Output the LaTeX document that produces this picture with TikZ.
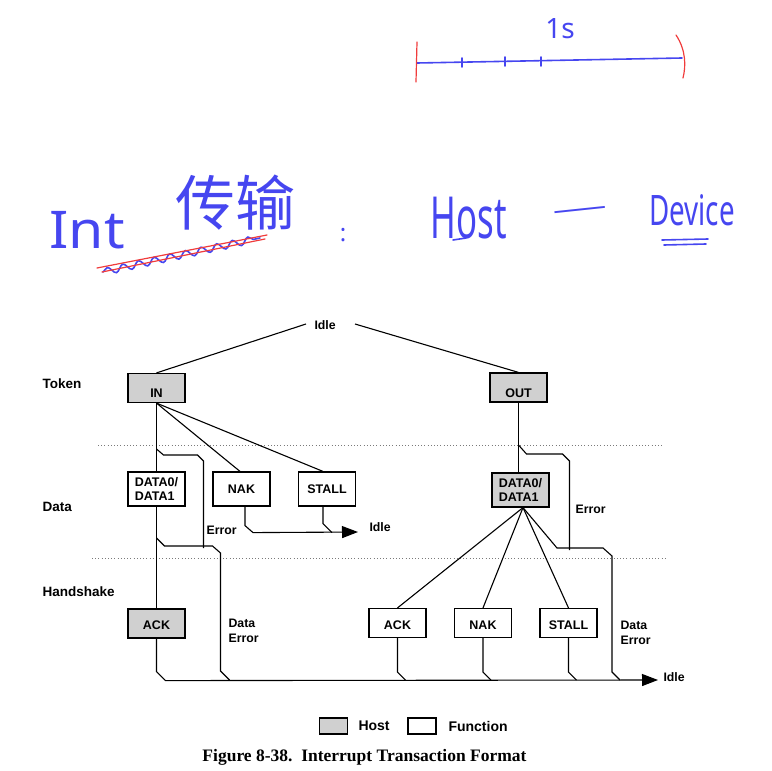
\documentclass[tikz,border=0pt]{standalone}
\usepackage{fontspec}
\setmainfont{Liberation Serif}
\setsansfont{Liberation Sans}
\newfontfamily\handfont{Noto Sans}
\newfontfamily\cjkhand{Noto Sans CJK SC}
\usetikzlibrary{arrows.meta, calc, decorations.pathmorphing}
\definecolor{chost}{HTML}{D0D0D0}
\definecolor{cink}{HTML}{4646F0}
\definecolor{cred}{HTML}{F03C3C}
\definecolor{cdot}{HTML}{7A7A7A}
\tikzset{
  every picture/.style={font=\sffamily\bfseries, line width=1.1pt},
  pktbase/.style={draw, fill=#1, line width=1.2pt, minimum width=57pt, inner sep=0pt, align=left, font=\sffamily\bfseries\fontsize{12.5}{14}\selectfont},
  pktbase/.default=white,
  pkt/.style={pktbase=#1, minimum height=29pt, text height=12pt, text depth=0pt},
  pkt/.default=white,
  datapkt/.style={pktbase=#1, minimum height=34pt},
  datapkt/.default=white,
  phase/.style={anchor=west, inner sep=0pt, font=\sffamily\bfseries\fontsize{13.5}{14}\selectfont},
  note/.style={anchor=west, inner sep=0pt, align=left, font=\sffamily\bfseries\fontsize{12.3}{14.5}\selectfont},
  key/.style={draw, fill=#1, line width=1.2pt, minimum width=28pt, minimum height=16pt, inner sep=0pt},
  sep/.style={draw=cdot, line width=0.8pt, dash pattern=on 1pt off 2.2pt},
  flow/.style={draw=black, line width=1.1pt},
  toidle/.style={flow, -{Triangle[length=16pt, width=12pt]}},
  ink/.style={text=cink, inner sep=0pt},
  inkline/.style={draw=cink, line width=1.6pt, line cap=round},
  redline/.style={draw=cred, line width=1.2pt, line cap=round},
}

\begin{document}
\begin{tikzpicture}[x=1pt, y=-1pt]
  \useasboundingbox (0,0) rectangle (772,771);
  % handwritten notes
  \node[ink, font=\handfont\fontsize{28}{28}\selectfont, anchor=base] (hsec) at (560,38) {1s};
  \coordinate (t0) at (417,63);
  \coordinate (t1) at (682,58);
  \draw[inkline] (t0) -- (t1);
  \foreach \x/\y in {462/62, 505/61, 541/61}
    \draw[inkline] (\x,\y-4) -- (\x,\y+5);
  \draw[redline] (417,42) -- (416,82);
  \draw[redline] (676,35) .. controls (686,50) and (686,66) .. (683,78);
  \node[ink, font=\handfont\fontsize{52}{52}\selectfont, anchor=base] (hint) at (87,248) {\scalebox{1.1}[1]{Int}};
  \node[ink, font=\cjkhand\fontsize{60}{60}\selectfont, anchor=base] (hchuan) at (235,225) {传输};
  \draw[inkline, decorate, decoration={snake, amplitude=3.5pt, segment length=16pt}] (103,272) -- (260,238);
  \draw[redline] (97,268) -- (267,235);
  \draw[redline] (102,272) -- (265,239);
  \node[ink, font=\handfont\fontsize{24}{24}\selectfont, anchor=base] (hcolon) at (343,241) {:};
  \node[ink, font=\handfont\fontsize{58}{58}\selectfont, anchor=base] (hhost) at (469,238) {\scalebox{0.6}[1]{Host}};
  \draw[inkline] (453,240) -- (466,238);
  \node[ink, font=\handfont\fontsize{55}{55}\selectfont, rotate=6] (hdash) at (580,213) {\scalebox{1}[0.45]{—}};
  \node[ink, font=\handfont\fontsize{42}{42}\selectfont, anchor=base] (hdev) at (692,225) {\scalebox{0.66}[1]{Device}};
  \draw[inkline] (662,240) -- (708,239);
  \draw[inkline] (664,245) -- (706,244);

  % phases
  \node[phase] (ltoken) at (42,384) {Token};
  \node[phase] (ldata) at (42,507) {Data};
  \node[phase] (lhand) at (42,592) {Handshake};
  \draw[sep] (98,445) -- (663,445);
  \draw[sep] (92,558) -- (665,558);

  % token
  \node[note] (idle0) at (314,325) {Idle};
  \coordinate (idlel) at (306,324);
  \coordinate (idler) at (355,324);
  \node[pkt=chost, text height=19pt] (in) at (156.5,388) {IN};
  \node[pkt=chost, text height=19pt] (out) at (518.5,387.5) {OUT};
  \draw[flow] (in.north) -- (idlel);
  \draw[flow] (idler) -- (out.north);

  % data
  \node[datapkt] (din) at (156.5,489) {DATA0/\\DATA1};
  \node[datapkt] (nakd) at (241.5,489) {NAK};
  \node[datapkt] (stalld) at (327,489) {STALL};
  \node[datapkt=chost] (dout) at (520.5,490) {DATA0/\\DATA1};
  \draw[flow] (in.south) -- (in.south |- din.north);
  \draw[flow] (in.south) -- ([xshift=-1.5pt]nakd.north);
  \draw[flow] (in.south) -- ([xshift=-4pt]stalld.north);
  \draw[flow] (out.south) -- (out.south |- dout.north);

  % handshake
  \node[pkt=chost] (ackh) at (156.5,623.5) {ACK};
  \node[pkt] (ackf) at (397.5,623) {ACK};
  \node[pkt] (nakf) at (483,623) {NAK};
  \node[pkt] (stallf) at (568.5,623) {STALL};
  \draw[flow] (din.south) -- (din.south |- ackh.north);
  \foreach \t in {ackf, nakf, stallf}
    \draw[flow] ([xshift=2.5pt]dout.south) -- (\t.north);

  % error paths
  \coordinate (e1) at (156.5,449);
  \coordinate (e2) at (156.5,538);
  \coordinate (e3) at (557,548);
  \coordinate (e4) at (518.5,445);
  \draw[flow] (e1) -- ++(7,6) -- ++(34,0) -- ++(6,6) -- ++(0,87);
  \draw[flow] (e2) -- ++(8,8) -- ++(48,0) -- ++(8,7) -- ++(0,118) -- ++(9,9);
  \draw[flow] ([xshift=2.5pt]dout.south) -- (e3) -- ++(46,0) -- ++(9,8) -- ++(0,116) -- ++(8,8);
  \draw[flow] (e4) -- ++(8,9) -- ++(36,0) -- ++(7,7) -- ++(0,89);
  \node[note] (err1) at (206,530) {Error};
  \node[note] (err2) at (575,509) {Error};
  \node[note] (derr1) at (228,631) {Data\\Error};
  \node[note] (derr2) at (620,633) {Data\\Error};

  % back to idle
  \node[note] (idle1) at (369,527.5) {Idle};
  \node[note] (idle2) at (663,677.5) {Idle};
  \coordinate (idle1end) at (358,532);
  \coordinate (idle2end) at (658,680);
  \draw[toidle] ([xshift=3.5pt]nakd.south) -- ++(0,19) -- ++(8,7) -- (idle1end);
  \draw[flow] ([xshift=-4pt]stalld.south) -- ++(0,17) -- ++(9,9);
  \draw[toidle] (ackh.south) -- ++(0,33) -- ++(9,9) -- (idle2end);
  \foreach \t in {ackf, nakf, stallf}
    \draw[flow] (\t.south) -- ++(0,34) -- ++(8,8);

  % key and caption
  \node[key=chost] (keyhost) at (333.5,726) {};
  \node[note, font=\sffamily\bfseries\fontsize{14}{14}\selectfont] (khost) at (358,726) {Host};
  \node[key=white] (keyfunc) at (422,726) {};
  \node[note, font=\sffamily\bfseries\fontsize{14}{14}\selectfont] (kfunc) at (448,726) {Function};
  \node[inner sep=0pt, font=\rmfamily\bfseries\fontsize{17.5}{20}\selectfont] (caption) at (364.5,757) {Figure 8-38.\ \ Interrupt Transaction Format};
\end{tikzpicture}
\end{document}
